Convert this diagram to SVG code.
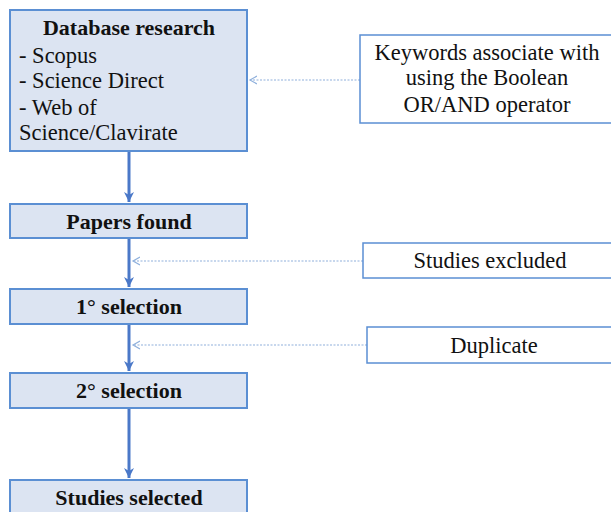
<svg xmlns="http://www.w3.org/2000/svg" width="611" height="512" viewBox="0 0 611 512">
<defs>
<style>
.node{fill:#dce4f2;stroke:#5b8fd3;stroke-width:2}
.side{fill:#ffffff;stroke:#5b8fd3;stroke-width:1.5}
.t{font-family:"Liberation Serif","Times New Roman",serif;font-size:22.5px;fill:#111}
.b{font-weight:bold;font-size:22px}
.flow{stroke:#4a78c8;stroke-width:3;fill:none}
.dash{stroke:#8fb0dc;stroke-width:1.2;stroke-dasharray:2 1.5;fill:none}
</style>
<marker id="ah" markerWidth="12" markerHeight="10" refX="10" refY="5" orient="auto" markerUnits="userSpaceOnUse">
<path d="M0,0 L10,5 L0,10 L3,5 z" fill="#4a78c8"/>
</marker>
<marker id="oh" markerWidth="10" markerHeight="10" refX="7" refY="5" orient="auto" markerUnits="userSpaceOnUse">
<path d="M0,1 L7,5 L0,9" fill="none" stroke="#8fb0dc" stroke-width="1.2"/>
</marker>
</defs>
<g id="connectors">
<line class="flow" x1="129" y1="152" x2="129" y2="202" marker-end="url(#ah)"/>
<line class="flow" x1="129" y1="239" x2="129" y2="287" marker-end="url(#ah)"/>
<line class="flow" x1="129" y1="325" x2="129" y2="371" marker-end="url(#ah)"/>
<line class="flow" x1="129" y1="409" x2="129" y2="478" marker-end="url(#ah)"/>
<line class="dash" x1="360" y1="80" x2="250" y2="80" marker-end="url(#oh)"/>
<line class="dash" x1="363" y1="261" x2="133" y2="261" marker-end="url(#oh)"/>
<line class="dash" x1="367" y1="345" x2="133" y2="345" marker-end="url(#oh)"/>
</g>
<g id="database">
<rect class="node" x="10" y="10" width="237" height="141"/>
<text class="t b" x="129" y="35" text-anchor="middle">Database research</text>
<text class="t" x="19" y="63">- Scopus</text>
<text class="t" x="19" y="88">- Science Direct</text>
<text class="t" x="19" y="115">- Web of</text>
<text class="t" x="19" y="140">Science/Clavirate</text>
</g>
<g id="papers">
<rect class="node" x="10" y="204" width="237" height="34"/>
<text class="t b" x="129" y="229" text-anchor="middle">Papers found</text>
</g>
<g id="sel1">
<rect class="node" x="10" y="289" width="237" height="35"/>
<text class="t b" x="129" y="314" text-anchor="middle">1° selection</text>
</g>
<g id="sel2">
<rect class="node" x="10" y="373" width="237" height="35"/>
<text class="t b" x="129" y="398" text-anchor="middle">2° selection</text>
</g>
<g id="selected">
<rect class="node" x="10" y="480" width="237" height="40"/>
<text class="t b" x="129" y="505" text-anchor="middle">Studies selected</text>
</g>
<g id="keywords">
<rect class="side" x="360" y="35" width="260" height="88"/>
<text class="t" x="487" y="60" text-anchor="middle">Keywords associate with</text>
<text class="t" x="487" y="85" text-anchor="middle">using the Boolean</text>
<text class="t" x="487" y="112" text-anchor="middle">OR/AND operator</text>
</g>
<g id="excluded">
<rect class="side" x="363" y="243" width="260" height="35"/>
<text class="t" x="490" y="268" text-anchor="middle">Studies excluded</text>
</g>
<g id="duplicate">
<rect class="side" x="367" y="327" width="260" height="36"/>
<text class="t" x="494" y="353" text-anchor="middle">Duplicate</text>
</g>
</svg>
